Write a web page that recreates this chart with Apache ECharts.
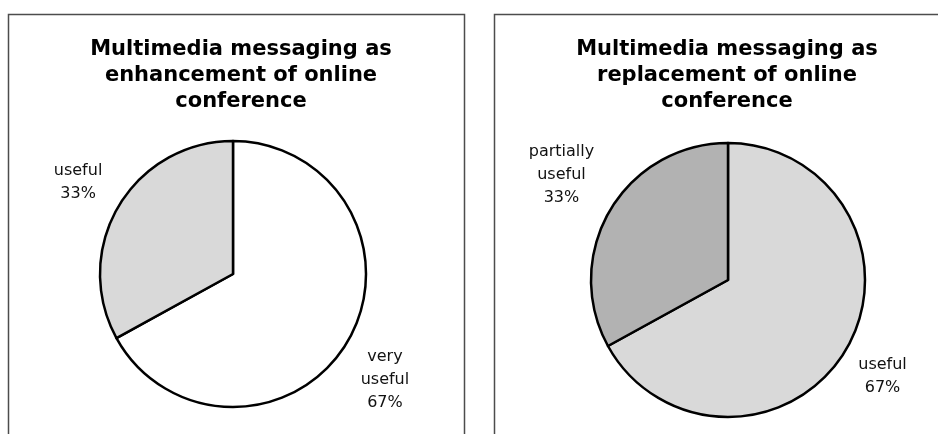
<!DOCTYPE html>
<html>
<head>
<meta charset="utf-8">
<script src="https://cdn.jsdelivr.net/npm/echarts@6/dist/echarts.min.js"></script>
<style>
  html, body { margin: 0; padding: 0; background: #ffffff; }
  #chart { width: 938px; height: 434px; }
</style>
</head>
<body>
<div id="chart"></div>
<script>
// Survey answers, as shares of respondents (percent)
const enhancementCategories = ['very useful', 'useful'];
const enhancementValues = [67, 33];
const enhancementColors = ['#ffffff', '#d9d9d9'];

const replacementCategories = ['useful', 'partially useful'];
const replacementValues = [67, 33];
const replacementColors = ['#d9d9d9', '#b2b2b2'];

const enhancementTitle = 'Multimedia messaging as\nenhancement of online\nconference';
const replacementTitle = 'Multimedia messaging as\nreplacement of online\nconference';

const FONT = '"DejaVu Sans", Verdana, sans-serif';

function buildData(names, values, colors) {
  return names.map(function (name, i) {
    return { name: name, value: values[i], itemStyle: { color: colors[i] } };
  });
}

// Label text: the category name broken into words, then the share
function labelText(p) {
  return p.name.split(' ').join('\n') + '\n' + Math.round(p.percent) + '%';
}

function pieSeries(data, center, radius, lineLen, nudges) {
  return {
    type: 'pie',
    center: center,
    radius: radius,
    startAngle: 90,
    clockwise: true,
    avoidLabelOverlap: false,
    silent: true,
    emphasis: { disabled: true },
    itemStyle: { borderColor: '#000000', borderWidth: 2.5 },
    label: {
      show: true,
      position: 'outside',
      distanceToLabelLine: 0,
      formatter: labelText,
      color: '#111111',
      fontFamily: FONT,
      fontSize: 16,
      lineHeight: 23
    },
    labelLine: { show: false, length: lineLen, length2: 0 },
    labelLayout: function (params) {
      const n = nudges[params.dataIndex] || [0, 0];
      return { align: 'center', verticalAlign: 'middle', dx: n[0], dy: n[1] };
    },
    data: data
  };
}

const chart = echarts.init(document.getElementById('chart'), null, { renderer: 'canvas' });

const titleStyle = {
  fontFamily: FONT,
  fontWeight: 'bold',
  fontSize: 21,
  lineHeight: 26,
  color: '#000000'
};

chart.setOption({
  backgroundColor: '#ffffff',
  animation: false,
  title: [
    { text: enhancementTitle, left: 236, top: 32, textAlign: 'center', textStyle: titleStyle },
    { text: replacementTitle, left: 722, top: 32, textAlign: 'center', textStyle: titleStyle }
  ],
  graphic: [
    {
      type: 'rect', z: -10, silent: true,
      shape: { x: 8.5, y: 14.5, width: 456, height: 440 },
      style: { fill: '#ffffff', stroke: '#4d4d4d', lineWidth: 1.5 }
    },
    {
      type: 'rect', z: -10, silent: true,
      shape: { x: 494.5, y: 14.5, width: 456, height: 440 },
      style: { fill: '#ffffff', stroke: '#4d4d4d', lineWidth: 1.5 }
    }
  ],
  series: [
    pieSeries(buildData(enhancementCategories, enhancementValues, enhancementColors),
      [233, 274], 133, 47, [[-3, 14], [0, 0]]),
    pieSeries(buildData(replacementCategories, replacementValues, replacementColors),
      [728, 280], 137, 53, [[-9, 0], [-3, -8]])
  ]
});
</script>
</body>
</html>
